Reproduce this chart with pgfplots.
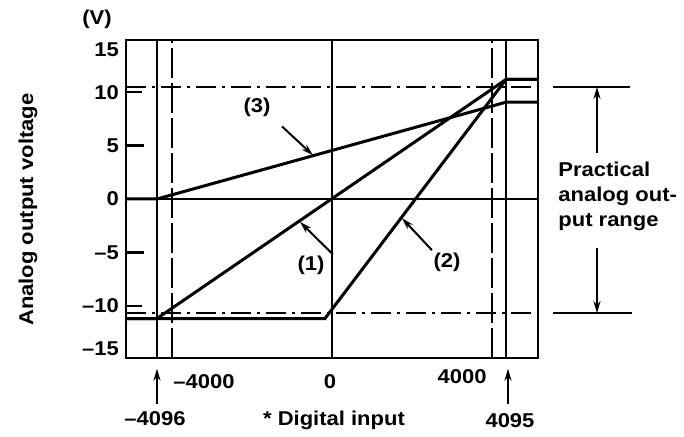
\documentclass[border=0pt]{standalone}
\usepackage{fontspec}
\setmainfont{Liberation Sans}[FakeStretch=1.1]
\usepackage{pgfplots}
\pgfplotsset{compat=1.18}
\usetikzlibrary{arrows.meta}

\begin{document}
\bfseries\fontsize{10}{12}\selectfont
\begin{tikzpicture}[>={Stealth[length=6pt,width=3.5pt]}]
\useasboundingbox (-63pt,-39.5pt) rectangle (279pt,179pt);
\begin{axis}[
    at={(0,0)}, anchor=south west,
    scale only axis, width=206pt, height=159pt,
    xmin=-5150, xmax=5150, ymin=-14.9, ymax=14.9,
    clip=false,
    axis line style={line width=1pt},
    xtick=\empty,
    ytick={-10,-5,0,5,10},
    yticklabels={--10,--5,0,5,10},
    extra y ticks={-14,14},
    extra y tick labels={--15,15},
    extra y tick style={tick style={draw=none}},
    ytick pos=left,
    tick align=inside,
    major tick length=8pt,
    ytick style={line width=1pt, black},
    curve/.style={line width=1.5pt, black},
    guide/.style={line width=0.8pt, black},
    dashv/.style={line width=0.8pt, black, dash pattern=on 15pt off 2.5pt},
    dashdot/.style={line width=1pt, black, dash pattern=on 10pt off 3pt on 1.5pt off 3pt},
]
% reference lines
\addplot[guide, line width=1pt] coordinates {(-5150,0) (5150,0)};
\addplot[guide] coordinates {(-4375,-14.9) (-4375,14.9)};
\addplot[guide] coordinates {(0,-14.9) (0,14.9)};
\addplot[guide] coordinates {(4350,-14.9) (4350,14.9)};
\addplot[dashv] coordinates {(-4000,-14.9) (-4000,14.9)};
\addplot[dashv] coordinates {(4000,-14.9) (4000,14.9)};
\addplot[dashdot] coordinates {(-5150,10.5) (5000,10.5)};
\addplot[dashdot] coordinates {(-5150,-10.7) (5000,-10.7)};

% tick marks at +-5
\addplot[line width=1.2pt, black] coordinates {(-5150,5) (-4700,5)};
\addplot[line width=1.2pt, black] coordinates {(-5150,-5) (-4700,-5)};

% (1)
\addplot[curve] coordinates {(-5150,-11.2) (-4375,-11.2) (4350,11.2) (5150,11.2)};
% (2)
\addplot[curve] coordinates {(-5150,-11.2) (-175,-11.2) (4350,11.2) (5150,11.2)};
% (3)
\addplot[curve] coordinates {(-5150,0) (-4375,0) (4350,9.07) (5150,9.07)};

% curve labels
\node at (axis cs:-1875,8.6) {(3)};
\draw[->, line width=1pt] (axis cs:-1250,6.8) -- (axis cs:-475,4.1);
\node at (axis cs:-525,-6.2) {(1)};
\draw[->, line width=1pt] (axis cs:25,-5.2) -- (axis cs:-800,-2.15);
\node at (axis cs:2875,-5.9) {(2)};
\draw[->, line width=1pt] (axis cs:2500,-4.8) -- (axis cs:1750,-1.8);

% x labels
\node[anchor=west, inner sep=0pt] at (axis cs:-3975,-17.1) {--4000};
\node at (axis cs:-50,-17.1) {0};
\node[anchor=east, inner sep=0pt] at (axis cs:3875,-16.6) {4000};
\node at (axis cs:-4425,-20.6) {--4096};
\draw[->, line width=1pt] (axis cs:-4375,-19.2) -- (axis cs:-4375,-15.9);
\node at (axis cs:4450,-20.8) {4095};
\draw[->, line width=1pt] (axis cs:4400,-19.2) -- (axis cs:4400,-15.9);
\node at (axis cs:50,-20.7) {* Digital input};

% y label and unit
\node at (axis cs:-5875,16.8) {(V)};
\node[rotate=90] at (axis cs:-7600,-1.0) {Analog output voltage};

% practical range
\draw[line width=1pt] (axis cs:5525,10.5) -- (axis cs:7450,10.5);
\draw[line width=1pt] (axis cs:5525,-10.7) -- (axis cs:7500,-10.7);
\draw[->, line width=1pt] (axis cs:6625,4.3) -- (axis cs:6625,10.5);
\draw[->, line width=1pt] (axis cs:6625,-4.6) -- (axis cs:6625,-10.7);
\node[anchor=west, align=left, inner sep=0pt, font=\fontsize{10}{12.5}\selectfont]
    at (axis cs:5650,0.2) {Practical\\analog out-\\put range};
\end{axis}
\end{tikzpicture}
\end{document}
